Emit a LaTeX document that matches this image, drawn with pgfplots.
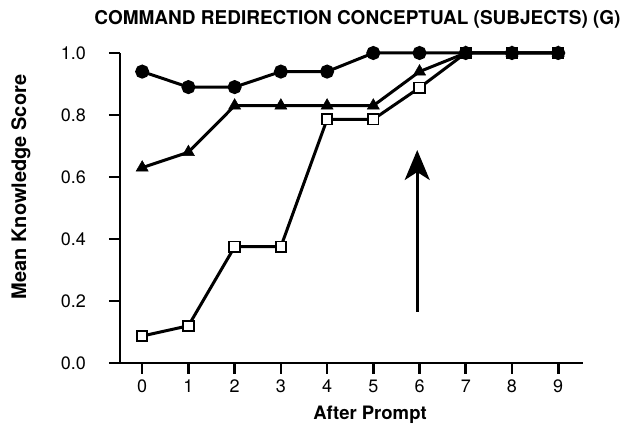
\documentclass[border=0pt]{standalone}
\usepackage{fontspec}
\setmainfont{TeX Gyre Heros}
\usepackage{pgfplots}
\usepackage{pgfplotstable}
\pgfplotsset{compat=1.18}
\usetikzlibrary{arrows.meta}

\pgfplotstableread{
x circ tri sq
0 0.94 0.63 0.087
1 0.89 0.68 0.12
2 0.89 0.83 0.375
3 0.94 0.83 0.375
4 0.94 0.83 0.786
5 1.00 0.83 0.786
6 1.00 0.94 0.888
7 1.00 1.00 1.00
8 1.00 1.00 1.00
9 1.00 1.00 1.00
}\data

\begin{document}
\begin{tikzpicture}
\begin{axis}[
  name=ax,
  scale only axis,
  width=462.7pt, height=310pt,
  xmin=-0.48, xmax=9.53,
  ymin=0, ymax=1,
  axis lines=left,
  axis line style={-, line width=2.6pt},
  x axis line style={shorten <=-10.7pt},
  xtick={0,...,9},
  ytick={0,0.2,0.4,0.6,0.8,1.0},
  tick align=outside,
  major tick length=11pt,
  tick style={line width=2.6pt, black},
  /pgf/number format/assume math mode=true,
  yticklabel style={/pgf/number format/.cd, fixed, fixed zerofill, precision=1, /tikz/.cd,
    font=\fontsize{18}{18}\selectfont, anchor=east, inner sep=0pt, xshift=-23pt},
  xticklabel style={font=\fontsize{18}{18}\selectfont, anchor=center, inner sep=0pt, yshift=-12pt},
  clip=false,
]
\addplot[black, line width=3pt, mark=square*, mark size=5.2pt,
  mark options={fill=white, draw=black, line width=1.9pt}] table[x=x, y=sq] {\data};
\addplot[black, line width=3pt, mark=triangle*, mark size=7pt,
  mark options={fill=black, draw=black, line width=0.5pt}] table[x=x, y=tri] {\data};
\addplot[black, line width=3pt, mark=*, mark size=5.5pt,
  mark options={fill=black, draw=black}] table[x=x, y=circ] {\data};
\draw[line width=2.8pt, -{Stealth[length=30pt, width=25pt, inset=8pt]}] (axis cs:5.95,0.165) -- (axis cs:5.95,0.687);
\coordinate (sw) at (rel axis cs:0,0);
\coordinate (ne) at (rel axis cs:1,1);
\end{axis}
\node[font=\bfseries\fontsize{19}{19}\selectfont] at ([shift={(237.5pt,343.5pt)}]sw) {COMMAND REDIRECTION CONCEPTUAL (SUBJECTS) (G)};
\node[font=\bfseries\fontsize{18.5}{18.5}\selectfont] at ([shift={(250pt,-52pt)}]sw) {After Prompt};
\node[font=\bfseries\fontsize{20}{20}\selectfont, rotate=90] at ([shift={(-99pt,176pt)}]sw) {Mean Knowledge Score};
\pgfresetboundingbox
\path ([shift={(-120pt,-64pt)}]sw) rectangle ([shift={(42.3pt,53pt)}]ne);
\end{tikzpicture}
\end{document}
